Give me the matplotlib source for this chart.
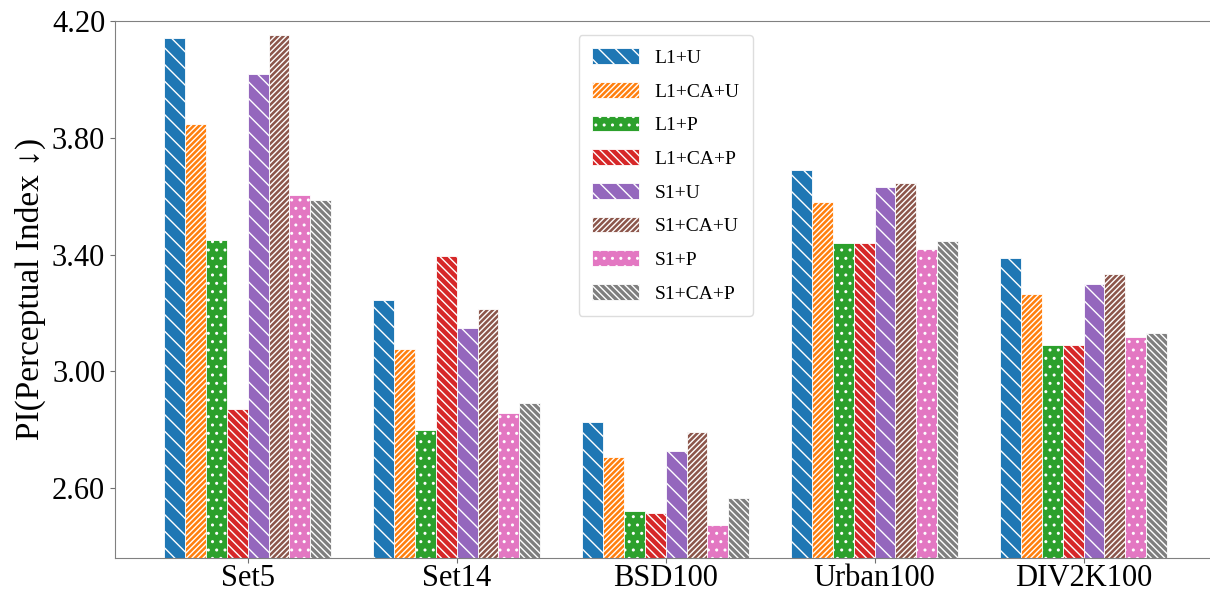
import numpy as np
import matplotlib.pyplot as plt

plt.rcParams['font.family'] = ['Liberation Serif', 'DejaVu Serif']
plt.rcParams['hatch.linewidth'] = 1.0

datasets = ['Set5', 'Set14', 'BSD100', 'Urban100', 'DIV2K100']
methods = ['L1+U', 'L1+CA+U', 'L1+P', 'L1+CA+P', 'S1+U', 'S1+CA+U', 'S1+P', 'S1+CA+P']

# PI values per method, one entry per dataset
pi_values = {
    'L1+U':    [4.14, 3.244, 2.827, 3.688, 3.387],
    'L1+CA+U': [3.848, 3.077, 2.707, 3.579, 3.265],
    'L1+P':    [3.449, 2.801, 2.524, 3.441, 3.091],
    'L1+CA+P': [2.872, 3.394, 2.514, 3.439, 3.090],
    'S1+U':    [4.017, 3.148, 2.728, 3.630, 3.299],
    'S1+CA+U': [4.153, 3.213, 2.793, 3.645, 3.334],
    'S1+P':    [3.605, 2.857, 2.475, 3.420, 3.117],
    'S1+CA+P': [3.586, 2.893, 2.566, 3.448, 3.132],
}

colors = ['#1f77b4', '#ff7f0e', '#2ca02c', '#d62728',
          '#9467bd', '#8c564b', '#e377c2', '#7f7f7f']
hatches = ['\\\\', '//////', '..', '\\\\\\\\', '\\\\', '//////', '..', '\\\\\\\\\\']

fig = plt.figure(figsize=(12.1, 5.96), dpi=100)
ax = fig.add_axes([0.095, 0.064, 0.905, 0.901])

x = np.arange(len(datasets))
w = 0.1
for i, m in enumerate(methods):
    ax.bar(x + (i - 3.5) * w, pi_values[m], w, color=colors[i],
           edgecolor='white', linewidth=0.6, hatch=hatches[i], label=m)

ax.set_ylim(2.362, 4.2)
ax.set_xlim(-0.635, 4.605)
ax.set_yticks([2.6, 3.0, 3.4, 3.8, 4.2])
ax.set_yticklabels(['2.60', '3.00', '3.40', '3.80', '4.20'])
ax.set_xticks(x)
ax.set_xticklabels(datasets)
ax.tick_params(axis='both', labelsize=22, colors='#707070', labelcolor='black')
ax.tick_params(axis='x', pad=1)
ax.set_ylabel('PI(Perceptual Index ↓)', fontsize=24)

for s in ['left', 'bottom', 'top']:
    ax.spines[s].set_color('#808080')
ax.spines['right'].set_visible(False)

leg = ax.legend(loc='upper center', bbox_to_anchor=(0.503, 0.992), fontsize=14,
                handlelength=2.4, handleheight=0.85, labelspacing=0.78,
                borderpad=0.7, framealpha=1)
leg.get_frame().set_edgecolor('#dddddd')

plt.savefig('out.png', dpi=100)
